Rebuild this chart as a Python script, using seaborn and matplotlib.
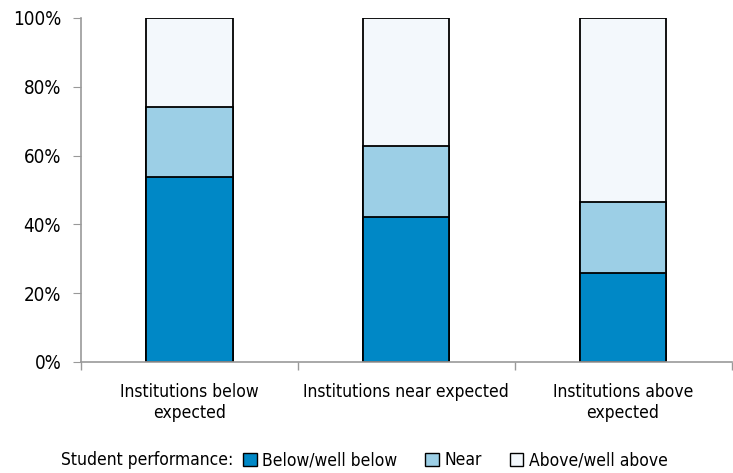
import pandas as pd
import seaborn as sns
import matplotlib.pyplot as plt
from matplotlib.patches import Patch
from matplotlib.ticker import PercentFormatter, FixedLocator

# Data (percent of students)
categories = ['Institutions below\nexpected', 'Institutions near expected', 'Institutions above\nexpected']
below = [53.8, 42.2, 25.9]
near = [20.3, 20.6, 20.6]
above = [100 - b - n for b, n in zip(below, near)]
series_names = ['Below/well below', 'Near', 'Above/well above']
colors = ['#0088c6', '#9ccfe6', '#f3f8fc']

df = pd.DataFrame({'Category': categories, 'Below': below, 'Near': near, 'Above': above})
df['cum_near'] = df['Below'] + df['Near']
df['cum_above'] = df['cum_near'] + df['Above']

sns.set_style("white")
plt.rcParams['font.family'] = ['DejaVu Sans']
plt.rcParams['font.stretch'] = 'condensed'
plt.rcParams['text.color'] = 'black'
plt.rcParams['xtick.color'] = 'black'
plt.rcParams['ytick.color'] = 'black'

fig, ax = plt.subplots(figsize=(7.33, 4.73), dpi=100)
fig.subplots_adjust(left=0.11, right=0.998, top=0.962, bottom=0.235)

# stacked bars: draw cumulative totals from top down
for col, c in zip(['cum_above', 'cum_near', 'Below'], colors[::-1]):
    sns.barplot(data=df, x='Category', y=col, color=c, width=0.4,
                edgecolor='black', linewidth=1.3, ax=ax, saturation=1)

ax.set_ylim(0, 100)
ax.set_xlim(-0.5, 2.5)
ax.set_yticks(range(0, 101, 20))
ax.yaxis.set_major_formatter(PercentFormatter(decimals=0))
ax.set_xlabel('')
ax.set_ylabel('')

for s in ['top', 'right']:
    ax.spines[s].set_visible(False)
for s in ['left', 'bottom']:
    ax.spines[s].set_color('#999999')
    ax.spines[s].set_linewidth(1.2)

ax.tick_params(axis='y', left=True, length=6, color='#999999', labelsize=13.5, pad=8)
ax.tick_params(axis='x', bottom=False, labelsize=12.5, pad=12)
ax.xaxis.set_minor_locator(FixedLocator([-0.5, 0.5, 1.5, 2.5]))
ax.tick_params(axis='x', which='minor', bottom=True, length=6, color='#999999', width=1)

handles = [Patch(facecolor=c, edgecolor='black', linewidth=1.0) for c in colors]
fig.text(0.319, 0.027, 'Student performance:', fontsize=12.5, va='center', ha='right')
fig.legend(handles, series_names, loc='center left', bbox_to_anchor=(0.332, 0.027),
           ncol=3, frameon=False, fontsize=12.5, handlelength=0.8, handleheight=0.8,
           handletextpad=0.3, columnspacing=1.6, borderaxespad=0, borderpad=0)

plt.savefig('out.png', dpi=100)
